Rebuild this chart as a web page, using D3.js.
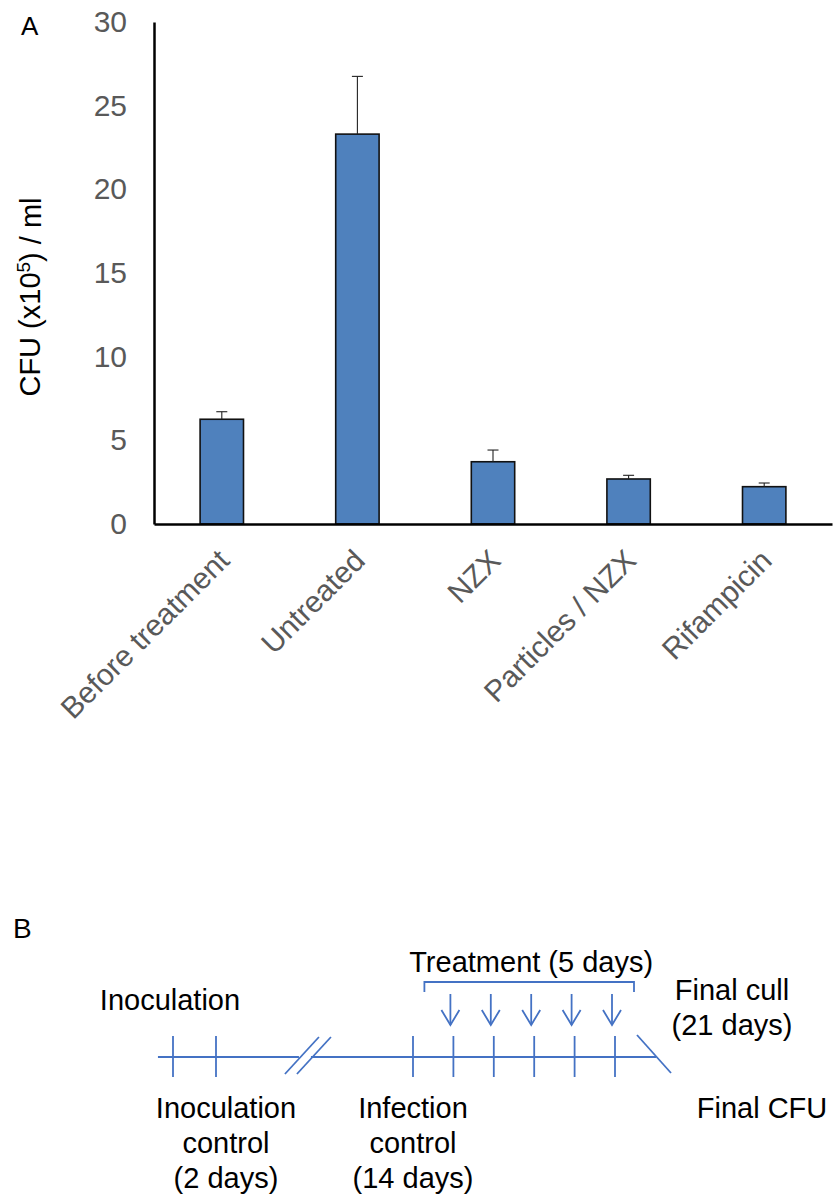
<!DOCTYPE html>
<html>
<head>
<meta charset="utf-8">
<script src="https://cdn.jsdelivr.net/npm/d3@7"></script>
<style>
  body { margin: 0; background: #fff; }
  text { font-family: "Liberation Sans", Arial, sans-serif; }
</style>
</head>
<body>
<svg id="chart"></svg>
<script>
// ---- panel A data ----
var groups = ["Before treatment", "Untreated", "NZX", "Particles / NZX", "Rifampicin"];
var cfu = [6.26, 23.3, 3.72, 2.69, 2.23];
var cfuErr = [0.45, 3.45, 0.70, 0.22, 0.22];
var yTicks = [0, 5, 10, 15, 20, 25, 30];

// ---- panel B data ----
var tickDays = [0, 2, 14, 15, 16, 17, 18, 19];
var doseDays = [15, 16, 17, 18, 19];
var topLabels = [
  {day: 0, lines: ["Inoculation"]},
  {day: 17, lines: ["Treatment (5 days)"]},
  {day: 21, lines: ["Final cull", "(21 days)"]}
];
var bottomLabels = [
  {day: 2, lines: ["Inoculation", "control", "(2 days)"]},
  {day: 14, lines: ["Infection", "control", "(14 days)"]},
  {day: 21, lines: ["Final CFU"]}
];
var breakDay = 7.6;
var finalDay = 21;

var svg = d3.select("#chart").attr("width", 837).attr("height", 1198);

// ================= Panel A =================
var gA = svg.append("g");

var x = d3.scaleBand().domain(groups).range([154, 832]).paddingInner(0.68).paddingOuter(0.34);
var y = d3.scaleLinear().domain([0, 30]).range([524, 22]);

gA.append("text").attr("x", 21).attr("y", 35).style("font-size", "26px").text("A");

// y axis
var yAxis = gA.append("g").attr("transform", "translate(154,0)")
  .call(d3.axisLeft(y).tickValues(yTicks).tickSize(0).tickPadding(27));
yAxis.select(".domain").attr("stroke", "#000").attr("stroke-width", 2.5);
yAxis.selectAll("text").style("font-size", "30px").attr("fill", "#595959")
  .style("font-family", "'Liberation Sans', Arial, sans-serif");

// y title
var yt = gA.append("text")
  .attr("transform", "translate(40,297) rotate(-90)")
  .attr("text-anchor", "middle")
  .style("font-size", "29px")
  .attr("fill", "#000");
yt.append("tspan").text("CFU (x10");
yt.append("tspan").attr("dy", "-0.55em").style("font-size", "19px").text("5");
yt.append("tspan").attr("dy", "0.38em").text(") / ml");

// bars
var rows = groups.map(function(g, i){ return {name: g, v: cfu[i], e: cfuErr[i]}; });

gA.selectAll(".bar").data(rows).enter().append("rect").attr("class", "bar")
  .attr("x", d => x(d.name))
  .attr("width", x.bandwidth())
  .attr("y", d => y(d.v))
  .attr("height", d => y(0) - y(d.v))
  .attr("fill", "#4f81bd")
  .attr("stroke", "#111")
  .attr("stroke-width", 1.6);

// error bars (upper only)
var eb = gA.selectAll(".err").data(rows).enter().append("g").attr("class", "err");
eb.append("line")
  .attr("x1", d => x(d.name) + x.bandwidth() / 2)
  .attr("x2", d => x(d.name) + x.bandwidth() / 2)
  .attr("y1", d => y(d.v))
  .attr("y2", d => y(d.v + d.e))
  .attr("stroke", "#222").attr("stroke-width", 1.1);
eb.append("line")
  .attr("x1", d => x(d.name) + x.bandwidth() / 2 - 5.5)
  .attr("x2", d => x(d.name) + x.bandwidth() / 2 + 5.5)
  .attr("y1", d => y(d.v + d.e))
  .attr("y2", d => y(d.v + d.e))
  .attr("stroke", "#222").attr("stroke-width", 1.1);

// x axis
var xAxis = gA.append("g").attr("transform", "translate(0," + y(0) + ")")
  .call(d3.axisBottom(x).tickSize(0).tickSizeOuter(0));
xAxis.select(".domain").attr("stroke", "#000").attr("stroke-width", 2.5);
xAxis.selectAll("text")
  .attr("x", 0).attr("y", 0).attr("dy", "0.35em")
  .attr("text-anchor", "end")
  .attr("transform", "translate(2,31) rotate(-45)")
  .style("font-size", "30px")
  .style("font-family", "'Liberation Sans', Arial, sans-serif")
  .attr("fill", "#595959");

// ================= Panel B =================
var gB = svg.append("g");
var blue = "#4472c4";
var ty = 1057;
var t = d3.scaleLinear().domain([0, 2, 14, 19, 21]).range([173, 216, 413, 615, 656]);

gB.append("text").attr("x", 13).attr("y", 938).style("font-size", "28px").text("B");

// main line with break
var bx = t(breakDay);
gB.append("line").attr("x1", t(-0.7)).attr("x2", bx - 9).attr("y1", ty).attr("y2", ty)
  .attr("stroke", blue).attr("stroke-width", 1.8);
gB.append("line").attr("x1", bx + 3).attr("x2", t(finalDay)).attr("y1", ty).attr("y2", ty)
  .attr("stroke", blue).attr("stroke-width", 1.8);
[-6, 6].forEach(function(o){
  gB.append("line")
    .attr("x1", bx + o - 17).attr("y1", ty + 17)
    .attr("x2", bx + o + 17).attr("y2", ty - 20)
    .attr("stroke", blue).attr("stroke-width", 1.8);
});
// final diagonal
gB.append("line")
  .attr("x1", t(finalDay) - 19).attr("y1", ty - 22)
  .attr("x2", t(finalDay) + 15).attr("y2", ty + 16)
  .attr("stroke", blue).attr("stroke-width", 1.8);

// ticks
gB.selectAll(".tk").data(tickDays).enter().append("line")
  .attr("x1", d => t(d)).attr("x2", d => t(d))
  .attr("y1", ty - 21).attr("y2", ty + 20)
  .attr("stroke", blue).attr("stroke-width", 1.8);

// bracket
var bl = t(doseDays[0]) - 29, br = t(doseDays[doseDays.length - 1]) + 19;
gB.append("path")
  .attr("d", "M" + bl + "," + (ty - 65) + "V" + (ty - 75) + "H" + br + "V" + (ty - 65))
  .attr("fill", "none").attr("stroke", blue).attr("stroke-width", 1.8);

// arrows
var ar = gB.selectAll(".ar").data(doseDays).enter().append("g")
  .attr("transform", d => "translate(" + (t(d) - 3) + ",0)");
ar.append("line").attr("x1", 0).attr("x2", 0).attr("y1", ty - 63).attr("y2", ty - 32)
  .attr("stroke", blue).attr("stroke-width", 1.8);
ar.append("path").attr("d", "M-9," + (ty - 47) + "L0," + (ty - 32) + "L9," + (ty - 47))
  .attr("fill", "none").attr("stroke", blue).attr("stroke-width", 1.8);

// labels
var topOff = {0: -3, 17: -3, 21: 76};
var topBase = {0: ty - 47, 17: ty - 85, 21: ty - 57};
topLabels.forEach(function(l){
  var tx = gB.append("text").attr("text-anchor", "middle").style("font-size", "29px")
    .attr("fill", "#000");
  l.lines.forEach(function(s, i){
    tx.append("tspan").attr("x", t(l.day) + topOff[l.day])
      .attr("y", topBase[l.day] + i * 35).text(s);
  });
});
var botOff = {2: 10, 14: 0, 21: 106};
bottomLabels.forEach(function(l){
  var tx = gB.append("text").attr("text-anchor", "middle").style("font-size", "29px")
    .attr("fill", "#000");
  l.lines.forEach(function(s, i){
    tx.append("tspan").attr("x", t(l.day) + botOff[l.day])
      .attr("y", ty + 61 + i * 35).text(s);
  });
});
</script>
</body>
</html>
